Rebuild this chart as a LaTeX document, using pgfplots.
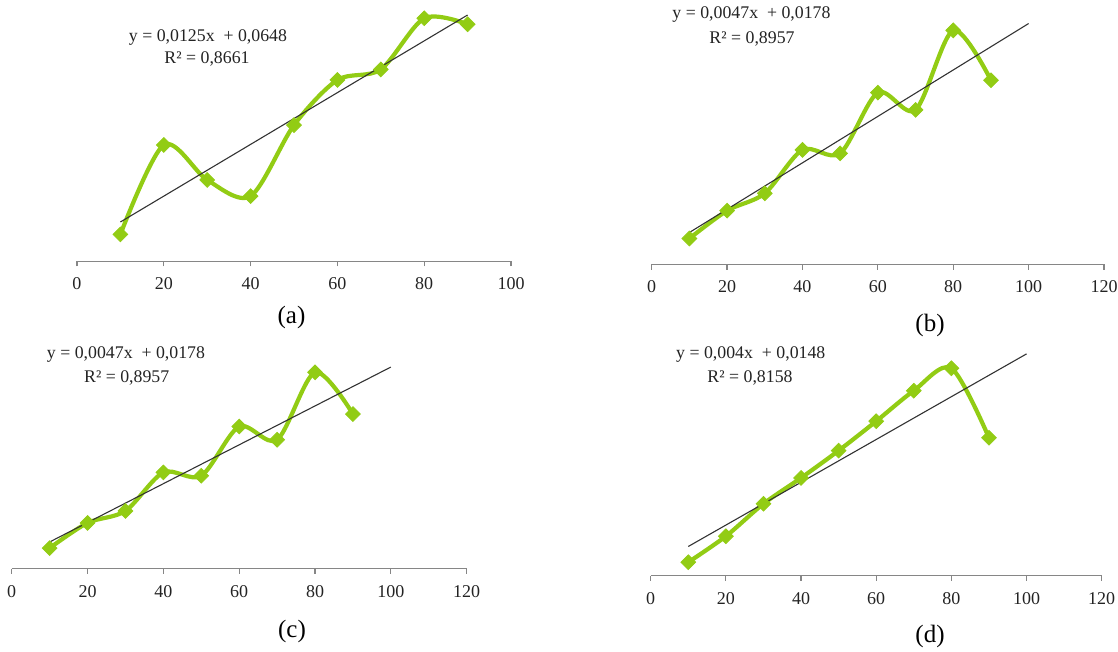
\documentclass[border=0pt]{standalone}
\usepackage{fontspec}
\setmainfont{Liberation Serif}
\usepackage{pgfplots}
\pgfplotsset{compat=1.18}
\definecolor{lgreen}{RGB}{146,204,20}
\definecolor{axgray}{RGB}{134,134,134}
\definecolor{txt}{RGB}{35,35,35}
\pgfplotsset{
  panel/.style={
    scale only axis,
    anchor=south west,
    axis x line=bottom,
    axis y line=none,
    ymin=0,
    clip=false,
    ytick=\empty,
    axis line style={axgray, line width=0.6pt},
    x axis line style={-},
    tick style={axgray, line width=0.6pt},
    major tick length=2.6pt,
    xtick align=outside,
    /pgf/number format/assume math mode=true,
    xticklabel style={font=\fontsize{9}{10}\selectfont, text=txt, yshift=-2pt},
  },
  data/.style={lgreen, line width=2.1pt, smooth, tension=0.5, mark=square*, mark size=2.6pt, mark options={rotate=45, solid, fill=lgreen, draw=lgreen, line width=0.4pt}},
  trend/.style={black!80, line width=0.55pt, no marks},
}
\begin{document}
\begin{tikzpicture}
\path[use as bounding box] (0,0) rectangle (559pt,326pt);
% (a)
\begin{axis}[panel, at={(38.5pt,195.35pt)}, width=217pt, height=129.375pt,
  xmin=0, xmax=100, ymax=1.25, xtick={0,20,40,60,80,100}]
\addplot[data] coordinates {(10,0.130) (20,0.562) (30,0.393) (40,0.315) (50,0.658) (60,0.876) (70,0.927) (80,1.174) (90,1.145)};
\addplot[trend] coordinates {(10,0.1898) (90,1.1898)};
\end{axis}
% (b)
\begin{axis}[panel, at={(325.85pt,193.75pt)}, width=226.15pt, height=123.5pt,
  xmin=0, xmax=120, ymax=0.5, xtick={0,20,40,60,80,100,120}]
\addplot[data] coordinates {(10,0.0526) (20,0.109) (30,0.144) (40,0.232) (50,0.225) (60,0.348) (70,0.313) (80,0.474) (90,0.373)};
\addplot[trend] coordinates {(10,0.0648) (100,0.4878)};
\end{axis}
% (c)
\begin{axis}[panel, at={(5.85pt,41.6pt)}, width=227.5pt, height=103.4pt,
  xmin=0, xmax=120, ymax=0.5, xtick={0,20,40,60,80,100,120}]
\addplot[data] coordinates {(10,0.050) (20,0.111) (30,0.140) (40,0.233) (50,0.225) (60,0.344) (70,0.312) (80,0.475) (90,0.374)};
\addplot[trend] coordinates {(10,0.0648) (100,0.4878)};
\end{axis}
% (d)
\begin{axis}[panel, at={(325.35pt,38.1pt)}, width=225.5pt, height=133.75pt,
  xmin=0, xmax=120, ymax=0.5, xtick={0,20,40,60,80,100,120}]
\addplot[data] coordinates {(10,0.0254) (20,0.074) (30,0.1346) (40,0.183) (50,0.234) (60,0.289) (70,0.346) (80,0.388) (90,0.258)};
\addplot[trend] coordinates {(10,0.0548) (100,0.4148)};
\end{axis}
% equations
\begin{scope}[every node/.style={font=\fontsize{8.9}{10}\selectfont, text=txt, inner sep=0pt}]
\node at (104pt,307pt) {y = 0,0125x\ \ + 0,0648};
\node at (103.5pt,296.5pt) {R² = 0,8661};
\node at (375.75pt,318.5pt) {y = 0,0047x\ \ + 0,0178};
\node at (376pt,306.5pt) {R² = 0,8957};
\node at (63pt,148.5pt) {y = 0,0047x\ \ + 0,0178};
\node at (63.35pt,137pt) {R² = 0,8957};
\node at (375.4pt,148.5pt) {y = 0,004x\ \ + 0,0148};
\node at (375pt,137pt) {R² = 0,8158};
\end{scope}
% captions
\begin{scope}[every node/.style={font=\fontsize{12.5}{14}\selectfont, text=black, inner sep=0pt}]
\node at (145.75pt,167.5pt) {(a)};
\node at (465pt,163.5pt) {(b)};
\node at (146pt,10.5pt) {(c)};
\node at (465pt,8pt) {(d)};
\end{scope}
\end{tikzpicture}
\end{document}
